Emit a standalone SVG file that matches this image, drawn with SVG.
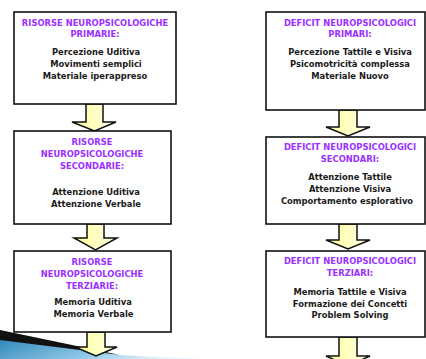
<svg xmlns="http://www.w3.org/2000/svg" width="426" height="359" viewBox="0 0 426 359">
<defs>
<linearGradient id="yel" x1="0" y1="0" x2="1" y2="0">
<stop offset="0" stop-color="#ffff99"/>
<stop offset="1" stop-color="#ffffe8"/>
</linearGradient>
<linearGradient id="blu" x1="0" y1="0" x2="1" y2="0.3">
<stop offset="0" stop-color="#2c86b8"/>
<stop offset="0.6" stop-color="#8cc6e6"/>
<stop offset="1" stop-color="#e8f4fa"/>
</linearGradient>
</defs>
<style>
.box{fill:#ffffff;stroke:#111;stroke-width:1.6}
.arr{fill:url(#yel);stroke:#111;stroke-width:1.5;stroke-linejoin:miter}
.t{font-family:"DejaVu Sans Condensed","DejaVu Sans",sans-serif;font-stretch:condensed;font-weight:bold;font-size:9.3px;fill:#9b30ff;text-anchor:middle}
.b{font-family:"DejaVu Sans Condensed","DejaVu Sans",sans-serif;font-stretch:condensed;font-weight:bold;font-size:9.3px;fill:#1a1a1a;text-anchor:middle}
</style>
<rect width="426" height="359" fill="#ffffff"/>
<g id="decor">
<polygon points="0,338 118,355 200,359 0,359" fill="url(#blu)"/>
<polygon points="0,330 120,355 0,340" fill="#111"/>
</g>
<g id="connectors">
<polygon class="arr" points="86,104 103,104 103,122 116,122 94.5,131 72,122 86,122"/>
<polygon class="arr" points="87,224 104,224 104,238 117,238 95.5,250 74,238 87,238"/>
<polygon class="arr" points="87,332 105,332 105,347 117,347 96,356 75,347 87,347"/>
<polygon class="arr" points="339,110 357,110 357,127 370,127 348,136 326,127 339,127"/>
<polygon class="arr" points="339,224 357,224 357,240 370,240 348,249 326,240 339,240"/>
<polygon class="arr" points="339,337 357,337 357,356 370,356 348,366 326,356 339,356"/>
</g>
<g id="r1">
<rect class="box" x="14" y="12" width="162" height="92"/>
<text class="t" x="95" y="26">RISORSE NEUROPSICOLOGICHE</text>
<text class="t" x="95" y="37">PRIMARIE:</text>
<text class="b" x="96" y="55">Percezione Uditiva</text>
<text class="b" x="96" y="67">Movimenti semplici</text>
<text class="b" x="95" y="79">Materiale iperappreso</text>
</g>
<g id="r2">
<rect class="box" x="14" y="131" width="157" height="93"/>
<text class="t" x="92" y="145">RISORSE</text>
<text class="t" x="92" y="157">NEUROPSICOLOGICHE</text>
<text class="t" x="92" y="169">SECONDARIE:</text>
<text class="b" x="96" y="195">Attenzione Uditiva</text>
<text class="b" x="96" y="207">Attenzione Verbale</text>
</g>
<g id="r3">
<rect class="box" x="14" y="251" width="157" height="81"/>
<text class="t" x="92" y="264.5">RISORSE</text>
<text class="t" x="92" y="276.5">NEUROPSICOLOGICHE</text>
<text class="t" x="92" y="288.5">TERZIARIE:</text>
<text class="b" x="93" y="305">Memoria Uditiva</text>
<text class="b" x="93.5" y="317">Memoria Verbale</text>
</g>
<g id="d1">
<rect class="box" x="266" y="12" width="159" height="98"/>
<text class="t" x="350" y="26">DEFICIT NEUROPSICOLOGICI</text>
<text class="t" x="350" y="37">PRIMARI:</text>
<text class="b" x="350" y="55">Percezione Tattile e Visiva</text>
<text class="b" x="350" y="67">Psicomotricità complessa</text>
<text class="b" x="350" y="79">Materiale Nuovo</text>
</g>
<g id="d2">
<rect class="box" x="266" y="137" width="159" height="87"/>
<text class="t" x="350" y="150">DEFICIT NEUROPSICOLOGICI</text>
<text class="t" x="350" y="161.5">SECONDARI:</text>
<text class="b" x="350" y="180">Attenzione Tattile</text>
<text class="b" x="350" y="192">Attenzione Visiva</text>
<text class="b" x="347" y="204">Comportamento esplorativo</text>
</g>
<g id="d3">
<rect class="box" x="266" y="251" width="159" height="86"/>
<text class="t" x="350" y="264">DEFICIT NEUROPSICOLOGICI</text>
<text class="t" x="350" y="276">TERZIARI:</text>
<text class="b" x="350" y="295">Memoria Tattile e Visiva</text>
<text class="b" x="350" y="306.5">Formazione dei Concetti</text>
<text class="b" x="350" y="318">Problem Solving</text>
</g>
</svg>
